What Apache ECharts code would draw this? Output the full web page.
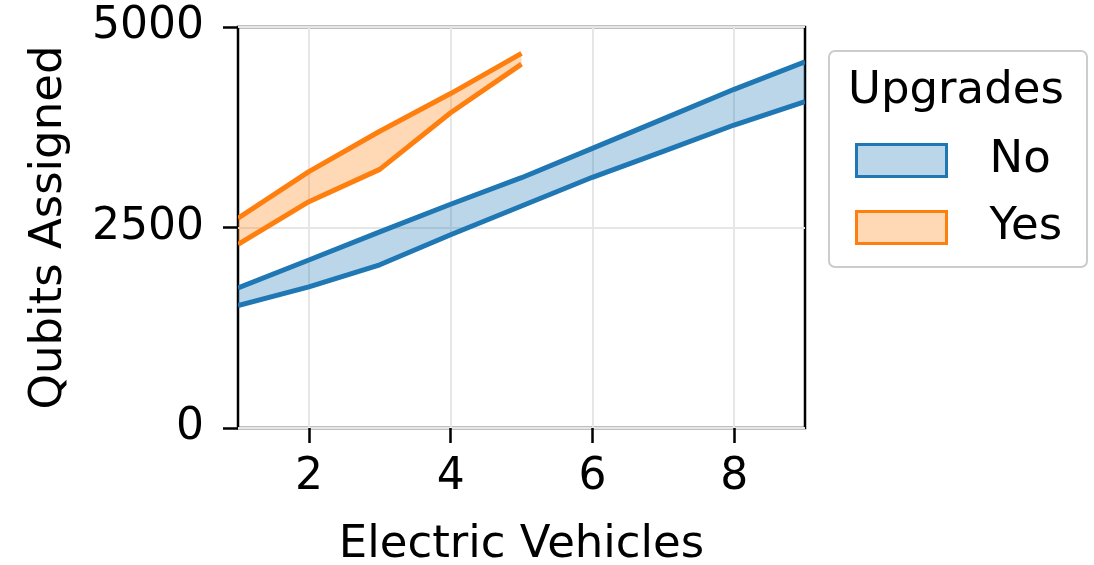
<!DOCTYPE html>
<html>
<head>
<meta charset="utf-8">
<script src="https://cdn.jsdelivr.net/npm/echarts@6/dist/echarts.min.js"></script>
<style>html,body{margin:0;padding:0;background:#fff}#c{width:1094px;height:565px}</style>
</head>
<body>
<div id="c"></div>
<script>
const xNo = [1, 2, 3, 4, 5, 6, 7, 8, 9];
const noLower = [1527, 1760, 2035, 2410, 2768, 3126, 3450, 3778, 4069];
const noUpper = [1746, 2095, 2445, 2790, 3121, 3487, 3855, 4223, 4567];
const xYes = [1, 2, 3, 4, 5];
const yesLower = [2290, 2822, 3225, 3930, 4537];
const yesUpper = [2615, 3197, 3700, 4170, 4672];
const xTicks = [2, 4, 6, 8];
const yTicks = [0, 2500, 5000];
const groupNames = ['No', 'Yes'];

const FONT = 'DejaVu Sans';
const BLUE = '#1f77b4', ORANGE = '#ff7f0e';
const BLUE_FILL = 'rgba(31,119,180,0.3)', ORANGE_FILL = 'rgba(255,127,14,0.3)';

function band(name, xs, lo, hi, color, fill) {
  return {
    name, type: 'custom', clip: true, z: 3,
    itemStyle: {color: fill, borderColor: color},
    encode: {x: 0, y: [1, 2]},
    data: xs.map((x, i) => [x, lo[i], hi[i]]),
    renderItem: function (params, api) {
      if (params.dataIndex !== 0) return null;
      const low = xs.map((x, i) => api.coord([x, lo[i]]));
      const up = xs.map((x, i) => api.coord([x, hi[i]]));
      const poly = up.concat(low.slice().reverse());
      return {
        type: 'group',
        children: [
          {type: 'polygon', shape: {points: poly}, style: {fill: fill, stroke: null}},
          {type: 'polyline', shape: {points: low}, style: {stroke: color, lineWidth: 5, fill: null, lineJoin: 'round', lineCap: 'butt'}},
          {type: 'polyline', shape: {points: up}, style: {stroke: color, lineWidth: 5, fill: null, lineJoin: 'round', lineCap: 'butt'}}
        ]
      };
    }
  };
}

const chart = echarts.init(document.getElementById('c'));
chart.setOption({
  animation: false,
  grid: {left: 238, right: 289, top: 27, bottom: 137, outerBoundsMode: 'none', containLabel: false, show: true, borderColor: '#000', borderWidth: 2.5, backgroundColor: 'transparent'},
  xAxis: {
    type: 'value', min: 1, max: 9,
    name: 'Electric Vehicles', nameLocation: 'middle', nameGap: 95,
    nameTextStyle: {fontFamily: FONT, fontSize: 45, color: '#000'},
    axisLine: {show: false},
    axisTick: {show: true, customValues: xTicks, length: 15, lineStyle: {color: '#000', width: 2.5}},
    axisLabel: {customValues: xTicks, fontFamily: FONT, fontSize: 44, color: '#000', margin: 28},
    splitLine: {show: true, lineStyle: {color: '#e6e6e6', width: 2}}
  },
  yAxis: {
    type: 'value', min: 0, max: 5000, interval: 2500,
    name: 'Qubits Assigned', nameLocation: 'middle', nameGap: 166, nameRotate: 90,
    nameTextStyle: {fontFamily: FONT, fontSize: 45, color: '#000'},
    axisLine: {show: false},
    axisTick: {show: true, customValues: yTicks, length: 15, lineStyle: {color: '#000', width: 2.5}},
    axisLabel: {customValues: yTicks, formatter: v => String(v), fontFamily: FONT, fontSize: 44, color: '#000', margin: 34},
    splitLine: {show: true, lineStyle: {color: '#e6e6e6', width: 2}}
  },
  legend: {
    orient: 'vertical', left: 850, top: 133, icon: 'rect',
    itemWidth: 90, itemHeight: 32, itemGap: 22,
    textStyle: {fontFamily: FONT, fontSize: 45, color: '#000', padding: [0, 0, 0, 38]},
    data: [
      {name: groupNames[0], icon: 'rect', itemStyle: {color: BLUE_FILL, borderColor: BLUE, borderWidth: 3}},
      {name: groupNames[1], icon: 'rect', itemStyle: {color: ORANGE_FILL, borderColor: ORANGE, borderWidth: 3}}
    ]
  },
  graphic: [
    {type: 'rect', left: 828, top: 50, z: -1, shape: {width: 258, height: 216, r: 6},
     style: {fill: '#fff', stroke: '#cccccc', lineWidth: 2}},
    {type: 'text', left: 848, top: 69, style: {text: 'Upgrades', font: '45px "DejaVu Sans"', fill: '#000'}}
  ],
  series: [
    band(groupNames[0], xNo, noLower, noUpper, BLUE, BLUE_FILL),
    band(groupNames[1], xYes, yesLower, yesUpper, ORANGE, ORANGE_FILL)
  ]
});
</script>
</body>
</html>
